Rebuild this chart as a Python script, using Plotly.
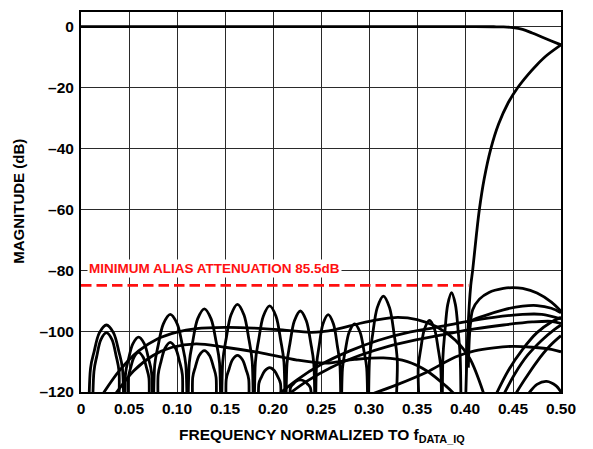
import plotly.graph_objects as go

# ---------------- axis ticks ----------------
x_tick_vals = [0, 0.05, 0.10, 0.15, 0.20, 0.25, 0.30, 0.35, 0.40, 0.45, 0.50]
x_tick_text = ["0", "0.05", "0.10", "0.15", "0.20", "0.25", "0.30", "0.35", "0.40", "0.45", "0.50"]
y_tick_vals = [0, -20, -40, -60, -80, -100, -120]
y_tick_text = ["0", "\u201320", "\u201340", "\u201360", "\u201380", "\u2013100", "\u2013120"]

# ---------------- passband response ----------------
passband_f = [0, 0.05, 0.10, 0.15, 0.20, 0.25, 0.30, 0.35, 0.40, 0.43, 0.44, 0.45, 0.46, 0.47, 0.48, 0.49, 0.50]
passband_db = [0, 0, 0, 0, 0, 0, 0, 0, 0, -0.05, -0.1, -0.3, -0.9, -2.1, -3.4, -4.7, -6.0]

# ---------------- image response ----------------
image_f = [0.4005, 0.403, 0.406, 0.408, 0.412, 0.415, 0.420, 0.427, 0.435, 0.445, 0.455, 0.465, 0.475, 0.485, 0.50]
image_db = [-125, -100, -85, -80, -68, -60, -50, -40, -32, -25, -20, -16, -12.5, -9.5, -6.0]

# ---------------- tall alias lobes (nulls drawn far below the axis floor) ----------------
lobes_a_f = [0.008, 0.0099, 0.0136, 0.0191, 0.0265, 0.0339, 0.0395, 0.0432, 0.045,
             0.0465, 0.0495, 0.054, 0.060, 0.066, 0.0705, 0.0735, 0.075,
             0.0768, 0.0804, 0.0858, 0.093, 0.1002, 0.1056, 0.1092, 0.111,
             0.1128, 0.1163, 0.1215, 0.1285, 0.1355, 0.1408, 0.1443, 0.146,
             0.1477, 0.1511, 0.1562, 0.163, 0.1698, 0.1749, 0.1783, 0.180,
             0.1817, 0.185, 0.1899, 0.1965, 0.2031, 0.208, 0.2114, 0.213,
             0.2146, 0.2177, 0.2223, 0.2285, 0.2347, 0.2394, 0.2425, 0.244,
             0.2454, 0.2481, 0.2521, 0.2575, 0.2629, 0.267, 0.2697, 0.271,
             0.2724, 0.2752, 0.2794, 0.285, 0.2906, 0.2948, 0.2976, 0.299,
             0.3006, 0.3038, 0.3086, 0.315, 0.3214, 0.3262, 0.3294, 0.331,
             0.350,
             0.3513, 0.3539, 0.3578, 0.363, 0.3682, 0.3721, 0.3747, 0.376,
             0.377, 0.379, 0.382, 0.386, 0.390, 0.393, 0.395, 0.396]
lobes_a_db = [-170, -112.3, -106.8, -100.6, -98, -100.6, -106.8, -112.3, -170,
              -113.7, -109.2, -104.2, -102, -104.2, -109.2, -113.7, -170,
              -111.1, -104.7, -97.6, -94.5, -97.6, -104.7, -111.1, -170,
              -110.4, -103.6, -96.0, -92.7, -96.0, -103.6, -110.4, -170,
              -109.9, -102.7, -94.7, -91.2, -94.7, -102.7, -109.9, -170,
              -110.1, -103.0, -95.1, -91.7, -95.1, -103.0, -110.1, -170,
              -110.7, -104.0, -96.6, -93.4, -96.6, -104.0, -110.7, -170,
              -111.1, -104.8, -97.6, -94.6, -97.6, -104.8, -111.1, -170,
              -112.2, -106.6, -100.3, -97.6, -100.3, -106.6, -112.2, -170,
              -109.0, -101.1, -92.3, -88.5, -92.3, -101.1, -109.0, -170,
              -170,
              -111.8, -105.9, -99.3, -96.5, -99.3, -105.9, -111.8, -170,
              -108.6, -100.4, -91.3, -87.4, -91.3, -100.4, -108.6, -170]

# ---------------- low alias lobes ----------------
lobes_b_f = [0.012, 0.0135, 0.0164, 0.0207, 0.0265, 0.0323, 0.0367, 0.0396, 0.041,
             0.048, 0.0492, 0.0516, 0.0552, 0.060, 0.0648, 0.0684, 0.0708, 0.072,
             0.079, 0.0804, 0.0832, 0.0874, 0.093, 0.0986, 0.1028, 0.1056, 0.107,
             0.115, 0.1164, 0.1191, 0.1231, 0.1285, 0.1339, 0.1380, 0.1407, 0.142,
             0.150, 0.1513, 0.1539, 0.1578, 0.163, 0.1682, 0.1721, 0.1747, 0.176,
             0.184, 0.1853, 0.1878, 0.1915, 0.1965, 0.2015, 0.2053, 0.2078, 0.209,
             0.217, 0.2182, 0.2205, 0.2239, 0.2285, 0.2331, 0.2366, 0.2389, 0.240]
lobes_b_db = [-170, -113.2, -108.3, -102.8, -100.5, -102.8, -108.3, -113.2, -170,
              -170, -115.5, -112.2, -108.6, -107, -108.6, -112.2, -115.5, -170,
              -170, -114.3, -110.2, -105.7, -103.7, -105.7, -110.2, -114.3, -170,
              -170, -115.2, -111.8, -108.0, -106.4, -108.0, -111.8, -115.2, -170,
              -170, -115.8, -112.8, -109.4, -108, -109.4, -112.8, -115.8, -170,
              -170, -117.2, -115.2, -113.0, -112, -113.0, -115.2, -117.2, -170,
              -170, -118.6, -117.6, -116.5, -116, -116.5, -117.6, -118.6, -170]

# ---------------- smooth alias envelopes ----------------
env1_f = [0.022, 0.04, 0.06, 0.08, 0.10, 0.12, 0.15, 0.18, 0.21, 0.24, 0.265, 0.29, 0.31, 0.33, 0.35, 0.37, 0.39, 0.405, 0.42]
env1_db = [-121, -113, -106.5, -102.5, -100.3, -99.2, -98.8, -99, -99.6, -100.4, -99.5, -97.5, -96.2, -95.5, -96.2, -98.5, -103, -109, -121]

env2_f = [0.035, 0.055, 0.075, 0.095, 0.12, 0.15, 0.19, 0.225, 0.255, 0.285, 0.315, 0.34, 0.36, 0.38, 0.39]
env2_db = [-121, -113, -108, -105.3, -104.2, -105.3, -107.3, -109.5, -110.5, -109.3, -108.8, -110, -113, -118, -121]

env3_f = [0.205, 0.225, 0.25, 0.28, 0.31, 0.34, 0.37, 0.40, 0.43, 0.46, 0.48, 0.50]
env3_db = [-121, -116, -111, -106.5, -103, -100.5, -98.8, -97, -95.5, -94.5, -94.5, -96]

env4_f = [0.215, 0.235, 0.26, 0.29, 0.32, 0.35, 0.38, 0.41, 0.44, 0.47, 0.49, 0.50]
env4_db = [-121, -116.5, -112, -108, -105, -102.8, -101, -99.3, -98, -97, -96.8, -97.5]

env5_f = [0.30, 0.33, 0.36, 0.39, 0.41, 0.43, 0.45, 0.47, 0.49, 0.50]
env5_db = [-121, -117.5, -113.5, -108.5, -106.5, -105.5, -105, -105.3, -106, -106.8]

hump1_f = [0.4035, 0.405, 0.408, 0.415, 0.425, 0.44, 0.45, 0.46, 0.475, 0.49, 0.50]
hump1_db = [-112, -100, -93, -89.5, -87.3, -86, -85.7, -86, -87.5, -90.5, -93.5]

hump2_f = [0.404, 0.406, 0.42, 0.44, 0.46, 0.475, 0.49, 0.50]
hump2_db = [-110, -97, -95, -93, -91.8, -91.6, -92.5, -94]

rise1_f = [0.432, 0.445, 0.46, 0.475, 0.49, 0.50]
rise1_db = [-121, -113, -106, -100.5, -97, -95.5]
rise2_f = [0.44, 0.452, 0.465, 0.48, 0.493, 0.50]
rise2_db = [-121, -114, -108, -103, -99.5, -98]
rise3_f = [0.452, 0.462, 0.475, 0.488, 0.50]
rise3_db = [-121, -116, -110, -105, -101.5]
arc_f = [0.465, 0.475, 0.485, 0.495, 0.50]
arc_db = [-121, -117.5, -116.5, -118, -120]

# ---------------- specification line ----------------
spec_f = [0, 0.404]
spec_db = [-85, -85]
spec_label = "MINIMUM ALIAS ATTENUATION 85.5dB"

curves = [
    (lobes_b_f, lobes_b_db), (lobes_a_f, lobes_a_db),
    (env1_f, env1_db), (env2_f, env2_db), (env3_f, env3_db), (env4_f, env4_db),
    (env5_f, env5_db), (hump1_f, hump1_db), (hump2_f, hump2_db),
    (rise1_f, rise1_db), (rise2_f, rise2_db), (rise3_f, rise3_db), (arc_f, arc_db),
    (image_f, image_db), (passband_f, passband_db),
]

fig = go.Figure()
for f, m in curves:
    fig.add_trace(go.Scatter(x=f, y=m, mode="lines",
                             line=dict(color="black", width=2.8, shape="spline", smoothing=0.9),
                             hoverinfo="skip"))

fig.add_trace(go.Scatter(x=spec_f, y=spec_db, mode="lines",
                         line=dict(color="#ff1010", width=2.7, dash="10.5px,5px"),
                         hoverinfo="skip"))

FONT = "Liberation Sans, Arial, Helvetica, sans-serif"

fig.add_annotation(x=0.006, y=-79.6, xref="x", yref="y", xanchor="left", yanchor="middle",
                   text=spec_label, showarrow=False, bgcolor="white", borderpad=1,
                   font=dict(family=FONT, size=13.5, color="#ff1010", weight="bold"))

fig.add_annotation(x=0.502, y=-0.114, xref="paper", yref="paper", xanchor="center", yanchor="middle",
                   text="FREQUENCY NORMALIZED TO f<sub>DATA_IQ</sub>", showarrow=False,
                   font=dict(family=FONT, size=15.5, color="black", weight="bold"))
fig.add_annotation(x=-0.131, y=0.501, xref="paper", yref="paper", xanchor="center", yanchor="middle",
                   text="MAGNITUDE (dB)", textangle=-90, showarrow=False,
                   font=dict(family=FONT, size=15, color="black", weight="bold"))

axis_common = dict(showgrid=True, gridcolor="#2a2a2a", gridwidth=1.3, zeroline=False,
                   showline=True, mirror=True, linecolor="black", linewidth=2, ticks="",
                   tickfont=dict(family=FONT, size=15.5, color="black", weight="bold"))

fig.update_xaxes(range=[0, 0.5], tickvals=x_tick_vals, ticktext=x_tick_text,
                 ticklabelstandoff=1, **axis_common)
fig.update_yaxes(range=[-120, 4.8], tickvals=y_tick_vals, ticktext=y_tick_text,
                 ticklabelstandoff=2, **axis_common)

# page body adds an 8px offset, so the figure is sized to fit the remaining window
fig.update_layout(width=585, height=441, margin=dict(l=73, r=32, t=2, b=57),
                  plot_bgcolor="white", paper_bgcolor="white", showlegend=False,
                  font=dict(family=FONT))

fig.write_html("out.html")
